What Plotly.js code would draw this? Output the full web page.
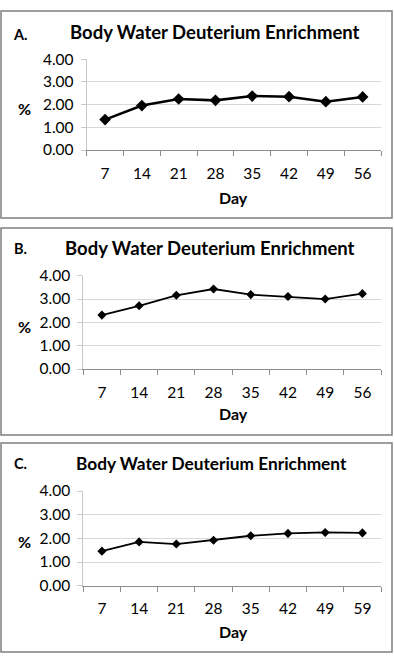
<!DOCTYPE html>
<html>
<head>
<meta charset="utf-8">
<script src="https://cdn.plot.ly/plotly-3.0.1.min.js"></script>
<style>html,body{margin:0;padding:0;background:#fff;}#chart{width:394px;height:663px;}</style>
</head>
<body>
<div id="chart"></div>
<script>
// ---- data ----
var daysAB = ["7", "14", "21", "28", "35", "42", "49", "56"];
var daysC = ["7", "14", "21", "28", "35", "42", "49", "59"];
var enrichA = [1.34, 1.96, 2.25, 2.19, 2.38, 2.35, 2.13, 2.34];
var enrichB = [2.31, 2.71, 3.16, 3.43, 3.19, 3.11, 3.00, 3.23];
var enrichC = [1.46, 1.85, 1.76, 1.92, 2.11, 2.21, 2.25, 2.23];
var yTicks = [0, 1, 2, 3, 4];
var yTickLabels = ["0.00", "1.00", "2.00", "3.00", "4.00"];
var titleText = "Body Water Deuterium Enrichment";
var panelLetters = ["A.", "B.", "C."];

// ---- layout helpers ----
var W = 394, H = 663;
function px(x) { return x / W; }
function py(y) { return 1 - y / H; }
var FONT = "Lato, 'Open Sans', sans-serif";

// panel geometry (pixels)
var panels = [
  {box: [1, 11, 392, 218], plot: [86.7, 59.3, 381, 150], title: [215, 32, 18.5], letter: [20, 34], pct: [24, 109], day: [233, 197], lineW: 2.6, mk: 9},
  {box: [1, 228, 392, 435], plot: [83.3, 275.7, 381, 369], title: [210, 248, 18.5], letter: [20, 248], pct: [24, 326], day: [233, 413], lineW: 1.8, mk: 7},
  {box: [1, 443, 392, 652], plot: [83.3, 491, 381, 585.7], title: [212, 464, 17.3], letter: [20, 464], pct: [24, 541], day: [233, 631], lineW: 1.8, mk: 7}
];
var series = [
  {x: daysAB, y: enrichA},
  {x: daysAB, y: enrichB},
  {x: daysC, y: enrichC}
];

var data = [];
var layout = {
  width: W, height: H,
  margin: {l: 0, r: 0, t: 0, b: 0},
  paper_bgcolor: "#ffffff",
  plot_bgcolor: "#ffffff",
  showlegend: false,
  font: {family: FONT, color: "#000000", size: 15},
  shapes: [],
  annotations: []
};

panels.forEach(function (p, i) {
  var sfx = i === 0 ? "" : String(i + 1);
  data.push({
    x: series[i].x, y: series[i].y,
    xaxis: "x" + sfx, yaxis: "y" + sfx,
    type: "scatter", mode: "lines+markers",
    line: {color: "#000000", width: p.lineW},
    marker: {symbol: "diamond", size: p.mk, color: "#000000"},
    cliponaxis: false, hoverinfo: "skip"
  });
  layout["xaxis" + sfx] = {
    domain: [px(p.plot[0]), px(p.plot[2])],
    anchor: "y" + sfx,
    type: "category",
    range: [-0.5, series[i].x.length - 0.5],
    showgrid: false, zeroline: false,
    showline: true, linecolor: "#8c8c8c", linewidth: 1,
    ticks: "outside", tickson: "boundaries", ticklen: 5, tickcolor: "#8c8c8c", tickwidth: 1,
    tickfont: {family: FONT, size: 15.5, color: "#000000"},
    ticklabelstandoff: 9,
    fixedrange: true
  };
  layout["yaxis" + sfx] = {
    domain: [py(p.plot[3]), py(p.plot[1])],
    anchor: "x" + sfx,
    range: [0, 4],
    tickvals: yTicks, ticktext: yTickLabels,
    showgrid: true, gridcolor: "#d9d9d9", gridwidth: 1,
    zeroline: false,
    showline: true, linecolor: "#c8c8c8", linewidth: 1,
    ticks: "outside", ticklen: 5, tickcolor: "#c8c8c8", tickwidth: 1,
    tickfont: {family: FONT, size: 15.5, color: "#000000"},
    ticklabelstandoff: 4,
    fixedrange: true
  };
  // border
  layout.shapes.push({
    type: "rect", xref: "paper", yref: "paper",
    x0: px(p.box[0]), x1: px(p.box[2]), y0: py(p.box[3]), y1: py(p.box[1]),
    line: {color: "#7f7f7f", width: 1.5}, fillcolor: "rgba(0,0,0,0)"
  });
  // title
  layout.annotations.push({
    xref: "paper", yref: "paper", x: px(p.title[0]), y: py(p.title[1]),
    xanchor: "center", yanchor: "middle", showarrow: false,
    text: "<b>" + titleText + "</b>",
    font: {family: FONT, size: p.title[2], color: "#000000"}
  });
  // letter
  layout.annotations.push({
    xref: "paper", yref: "paper", x: px(p.letter[0]), y: py(p.letter[1]),
    xanchor: "center", yanchor: "middle", showarrow: false,
    text: "<b>" + panelLetters[i] + "</b>",
    font: {family: FONT, size: 14.5, color: "#000000"}
  });
  // % label
  layout.annotations.push({
    xref: "paper", yref: "paper", x: px(p.pct[0]), y: py(p.pct[1]),
    xanchor: "center", yanchor: "middle", showarrow: false,
    text: "<b>%</b>",
    font: {family: FONT, size: 16, color: "#000000"}
  });
  // Day label
  layout.annotations.push({
    xref: "paper", yref: "paper", x: px(p.day[0]), y: py(p.day[1]),
    xanchor: "center", yanchor: "middle", showarrow: false,
    text: "<b>Day</b>",
    font: {family: FONT, size: 16, color: "#000000"}
  });
});

Plotly.newPlot("chart", data, layout, {displayModeBar: false, staticPlot: true});
</script>
</body>
</html>
